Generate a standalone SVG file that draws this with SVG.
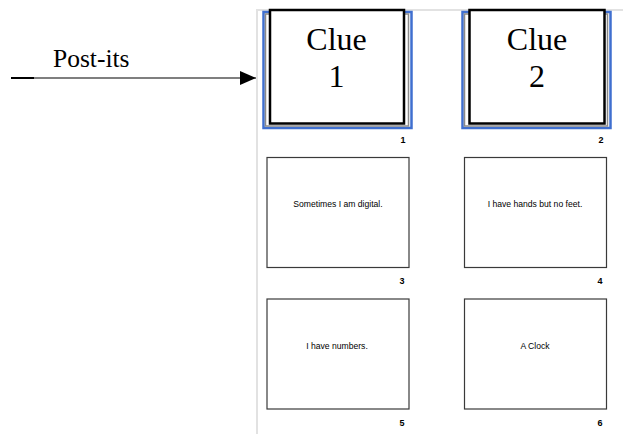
<svg xmlns="http://www.w3.org/2000/svg" width="623" height="434" viewBox="0 0 623 434">
<defs>
<marker id="arr" markerWidth="16" markerHeight="14" refX="16" refY="7" orient="auto" markerUnits="userSpaceOnUse">
<path d="M0,0 L16,7 L0,14 Z" fill="#000"/>
</marker>
<style>
.panel{stroke:#e2e2e2;stroke-width:2;fill:none}
.sel{fill:none;stroke:#3f6fcf;stroke-width:2.5}
.thumb{fill:#fff;stroke:#8a8a8a;stroke-width:1.5}
.postit{fill:#fff;stroke:#000;stroke-width:2.5}
.slide{fill:#fff;stroke:#3a3a3a;stroke-width:1.2}
.big{font-family:"Liberation Serif","Times New Roman",serif;font-size:32px;fill:#000;text-anchor:middle}
.small{font-family:"Liberation Sans",Arial,sans-serif;font-size:8.6px;fill:#000;text-anchor:middle}
.num{font-family:"Liberation Sans",Arial,sans-serif;font-size:9px;font-weight:bold;fill:#000;text-anchor:middle}
.lbl{font-family:"Liberation Serif","Times New Roman",serif;font-size:25.5px;fill:#000}
</style>
</defs>
<rect width="623" height="434" fill="#fff"/>
<g id="panel">
<line class="panel" x1="257" y1="10" x2="257" y2="434"/>
<line class="panel" x1="256" y1="10" x2="623" y2="10"/>
</g>
<g id="connectors">
<line x1="11" y1="78" x2="256" y2="78" stroke="#000" stroke-width="1.2" marker-end="url(#arr)"/>
<line x1="11" y1="78" x2="34" y2="78" stroke="#000" stroke-width="2"/>
</g>
<g id="label-postits">
<text class="lbl" x="53" y="67">Post-its</text>
</g>
<g id="slide1">
<rect class="sel" x="263.5" y="12" width="148" height="116"/>
<rect class="thumb" x="265.5" y="14" width="143" height="112"/>
<rect class="postit" x="270" y="10" width="134" height="113.5"/>
<text class="big" x="336.5" y="50">Clue</text>
<text class="big" x="336.5" y="87">1</text>
<text class="num" x="403" y="143">1</text>
</g>
<g id="slide2">
<rect class="sel" x="462.5" y="12" width="148" height="116"/>
<rect class="thumb" x="464.5" y="14" width="143" height="112"/>
<rect class="postit" x="469.5" y="10" width="135" height="113.5"/>
<text class="big" x="537" y="50">Clue</text>
<text class="big" x="537" y="87">2</text>
<text class="num" x="601" y="143">2</text>
</g>
<g id="slide3">
<rect class="slide" x="267" y="157.5" width="142" height="110"/>
<text class="small" x="338" y="207">Sometimes I am digital.</text>
<text class="num" x="402" y="284">3</text>
</g>
<g id="slide4">
<rect class="slide" x="464.5" y="157.5" width="142" height="110"/>
<text class="small" x="535" y="207">I have hands but no feet.</text>
<text class="num" x="600" y="284">4</text>
</g>
<g id="slide5">
<rect class="slide" x="267" y="299" width="142" height="110"/>
<text class="small" x="337" y="349">I have numbers.</text>
<text class="num" x="402" y="426">5</text>
</g>
<g id="slide6">
<rect class="slide" x="464.5" y="299" width="142" height="110"/>
<text class="small" x="535" y="349">A Clock</text>
<text class="num" x="600" y="426">6</text>
</g>
</svg>
